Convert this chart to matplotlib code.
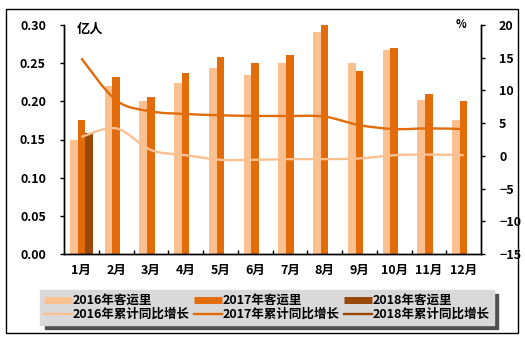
import numpy as np
import matplotlib
matplotlib.use('Agg')
import matplotlib.pyplot as plt
from matplotlib.path import Path
from matplotlib.patches import PathPatch, Rectangle
from matplotlib.lines import Line2D
from matplotlib.ticker import FixedLocator

plt.rcParams['font.family'] = ['Noto Sans CJK SC', 'DejaVu Sans']
plt.rcParams['font.weight'] = 'bold'

months = [f"{i}月" for i in range(1, 13)]

# passenger volume, 亿人
pax_2016 = [0.149, 0.220, 0.201, 0.224, 0.244, 0.235, 0.250, 0.291, 0.250, 0.267, 0.202, 0.176]
pax_2017 = [0.175, 0.232, 0.206, 0.237, 0.258, 0.250, 0.261, 0.300, 0.240, 0.270, 0.210, 0.200]
pax_2018 = [0.159]

# cumulative YoY growth, %
growth_2016 = [2.9, 4.2, 0.9, 0.1, -0.6, -0.6, -0.5, -0.5, -0.4, 0.1, 0.2, 0.1]
growth_2017 = [14.9, 8.5, 6.8, 6.4, 6.2, 6.1, 6.1, 6.0, 4.7, 4.1, 4.2, 4.1]
growth_2018 = [-9.1]

c16, c17, c18 = '#FAC090', '#E26B0A', '#984807'


def smooth_path(xs, ys):
    # cubic bezier through every point, like an office "smoothed line"
    pts = np.column_stack([xs, ys]).astype(float)
    n = len(pts)
    verts, codes = [pts[0]], [Path.MOVETO]
    for i in range(n - 1):
        p0, p1 = pts[max(i - 1, 0)], pts[i]
        p2, p3 = pts[i + 1], pts[min(i + 2, n - 1)]
        verts += [p1 + (p2 - p0) / 6, p2 - (p3 - p1) / 6, p2]
        codes += [Path.CURVE4] * 3
    return Path(verts, codes)


fig = plt.figure(figsize=(5.25, 3.49), dpi=100)
ax = fig.add_axes([64 / 525, 1 - 254 / 349, (481 - 64) / 525, (254 - 25) / 349])
ax2 = ax.twinx()

x = np.arange(12)
w = 0.22
ax.bar(x - w, pax_2016, w, color=c16, zorder=2)
ax.bar(x, pax_2017, w, color=c17, zorder=2)
ax.bar(np.arange(len(pax_2018)) + w, pax_2018, w, color=c18, zorder=2)

for vals, col in [(growth_2016, c16), (growth_2017, c17)]:
    ax2.add_patch(PathPatch(smooth_path(np.arange(len(vals)), vals),
                            fill=False, edgecolor=col, lw=1.7, zorder=3))
ax2.plot(np.arange(len(growth_2018)), growth_2018, color=c18, lw=1.7)

ax.set_xlim(-0.5, 11.5)
ax.set_ylim(0, 0.30)
ax2.set_ylim(-15, 20)
ax.set_yticks(np.arange(0, 0.301, 0.05))
ax.set_yticklabels([f"{v:.2f}" for v in np.arange(0, 0.301, 0.05)])
ax2.set_yticks(np.arange(-15, 21, 5))
ax.set_xticks(x)
ax.set_xticklabels(months)
ax.xaxis.set_minor_locator(FixedLocator(np.arange(0.5, 11.5, 1)))
ax.tick_params(axis='x', which='major', length=0, pad=7, labelsize=9)
ax.tick_params(axis='x', which='minor', direction='in', length=3, width=1)
ax.tick_params(axis='y', length=3, width=1, pad=10, labelsize=9)
ax2.tick_params(axis='y', length=3, width=1, pad=10, labelsize=9)

for a in (ax, ax2):
    a.spines['top'].set_visible(False)
    for s in ('left', 'right', 'bottom'):
        a.spines[s].set_linewidth(1)
    a.patch.set_visible(False)

ax.text(0.03, 0.985, '亿人', transform=ax.transAxes, fontsize=9.5,
        fontweight='bold', ha='left', va='center')
ax2.text(0.965, 1.0, '%', transform=ax2.transAxes, fontsize=8,
         fontweight='bold', ha='right', va='center')

handles = [
    Line2D([], [], color=c16, lw=5, solid_capstyle='butt'),
    Line2D([], [], color=c16, lw=1.7),
    Line2D([], [], color=c17, lw=5, solid_capstyle='butt'),
    Line2D([], [], color=c17, lw=1.7),
    Line2D([], [], color=c18, lw=5, solid_capstyle='butt'),
    Line2D([], [], color=c18, lw=1.7),
]
labels = ['2016年客运里', '2016年累计同比增长', '2017年客运里', '2017年累计同比增长',
          '2018年客运里', '2018年累计同比增长']
leg = fig.legend(handles, labels, ncol=3, loc='center',
                 bbox_to_anchor=(267 / 525, 1 - 307.5 / 349),
                 frameon=True, fancybox=False,
                 shadow={'color': '#505050', 'alpha': 1, 'ox': 3, 'oy': -3},
                 facecolor='#D9D9D9', edgecolor='#D9D9D9', framealpha=1,
                 prop={'size': 9, 'weight': 'bold'}, handlelength=2.2,
                 handletextpad=0.1, columnspacing=0.35, labelspacing=0.1,
                 borderpad=0.3)

fig.patches.append(Rectangle((6 / 525, 1 - 333 / 349), 512 / 525, 324 / 349,
                             transform=fig.transFigure, fill=False,
                             edgecolor='black', lw=1))

fig.savefig('out.png', dpi=100, facecolor='white')
